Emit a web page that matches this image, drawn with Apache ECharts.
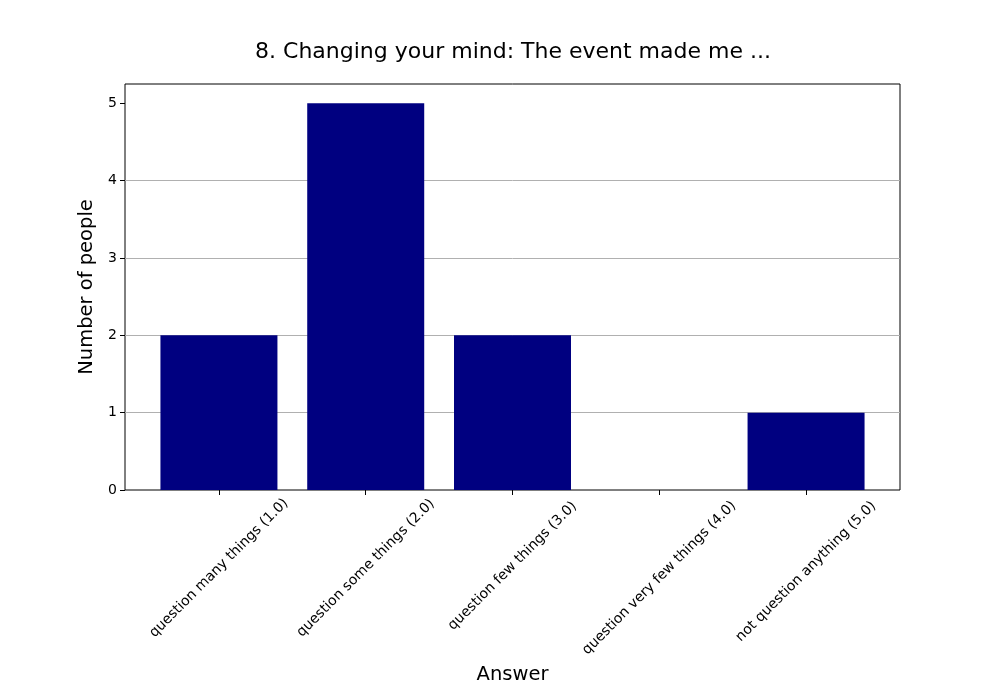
<!DOCTYPE html>
<html>
<head>
<meta charset="utf-8">
<script src="https://cdn.jsdelivr.net/npm/echarts@6/dist/echarts.min.js"></script>
<style>html,body{margin:0;padding:0;background:#fff}#c{width:1000px;height:700px}</style>
</head>
<body>
<div id="c"></div>
<script>
var categories = ['question many things (1.0)', 'question some things (2.0)', 'question few things (3.0)', 'question very few things (4.0)', 'not question anything (5.0)'];
var counts = [2, 5, 2, 0, 1];
var yTicks = [0, 1, 2, 3, 4, 5];
var xPositions = [0, 1, 2, 3, 4];
var labelPad = [3, 3, 0, 17, 8];

var chart = echarts.init(document.getElementById('c'));
var FONT = 'DejaVu Sans';
var rich = {};
labelPad.forEach(function (p, i) {
  rich['l' + i] = { padding: [p, p, 0, 0], fontSize: 14, fontFamily: FONT, color: '#000' };
});
chart.setOption({
  animation: false,
  backgroundColor: '#fff',
  title: {
    text: '8. Changing your mind: The event made me ...',
    left: 508, top: 36, textAlign: 'center',
    textStyle: { fontFamily: FONT, fontSize: 22, fontWeight: 'normal', color: '#000' }
  },
  grid: { left: 125, right: 100, top: 84, bottom: 210, show: true, borderColor: '#000', borderWidth: 1, backgroundColor: 'transparent' },
  xAxis: {
    type: 'value', min: -0.64, max: 4.64,
    name: 'Answer', nameLocation: 'middle', nameGap: 166,
    nameTextStyle: { fontFamily: FONT, fontSize: 19.5, color: '#000' },
    axisLine: { show: false, onZero: false },
    axisTick: { show: true, length: 5, lineStyle: { color: '#000' }, customValues: xPositions },
    axisLabel: {
      customValues: xPositions, rotate: 45, align: 'center', verticalAlign: 'middle', margin: 76,
      fontFamily: FONT, fontSize: 14, color: '#000',
      formatter: function (v) { var i = Math.round(v); return '{l' + i + '|' + categories[i] + '}'; },
      rich: rich
    },
    splitLine: { show: false }
  },
  yAxis: {
    type: 'value', min: 0, max: 5.25, interval: 1,
    name: 'Number of people', nameLocation: 'middle', nameGap: 25,
    nameTextStyle: { fontFamily: FONT, fontSize: 19.5, color: '#000' },
    axisLine: { show: false, onZero: false },
    axisTick: { show: true, length: 5, lineStyle: { color: '#000' }, customValues: yTicks },
    axisLabel: { customValues: yTicks, fontFamily: FONT, fontSize: 14, color: '#000', margin: 8 },
    splitLine: { show: true, showMinLine: false, showMaxLine: false, lineStyle: { color: '#b0b0b0', width: 1 } }
  },
  series: [{
    type: 'bar',
    data: counts.map(function (v, i) { return [xPositions[i], v]; }),
    barWidth: 117,
    itemStyle: { color: '#000080' },
    z: 3
  }]
});
</script>
</body>
</html>
